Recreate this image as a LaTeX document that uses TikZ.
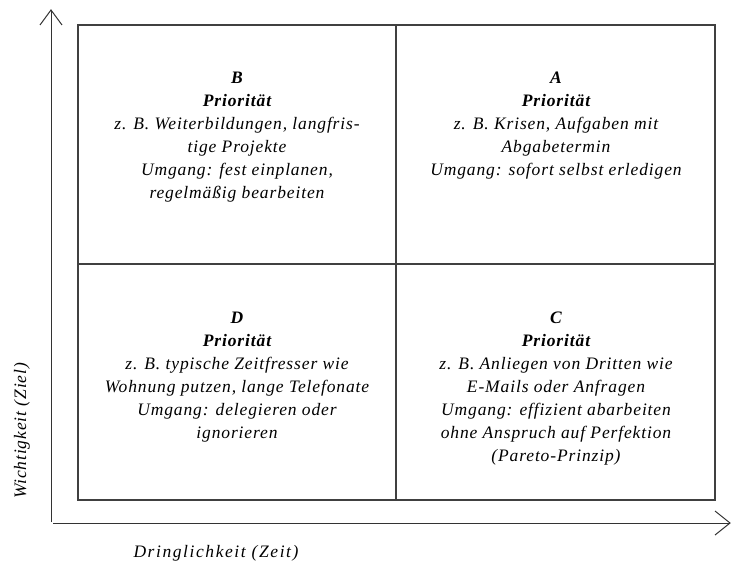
\documentclass[tikz,border=0pt]{standalone}
\usepackage{fontspec}
\setmainfont{Liberation Serif}
\newfontfamily\quadfont[LetterSpace=5]{Liberation Serif}
\newfontfamily\labfont[LetterSpace=9]{Liberation Serif}
\begin{document}
\begin{tikzpicture}[x=1pt,y=-1pt,
  box/.style={draw=black!75,line width=1.3pt},
  axis/.style={draw=black!80,line width=1pt},
  quad/.style={anchor=north,align=center,font=\quadfont\fontsize{17.5}{23}\selectfont\itshape,inner sep=0pt},
  axlabel/.style={inner sep=0pt}]
\useasboundingbox (0,0) rectangle (738,561);
% quadrants
\draw[box] (78,25) rectangle (396,264);
\draw[box] (396,25) rectangle (715,264);
\draw[box] (78,264) rectangle (396,500);
\draw[box] (396,264) rectangle (715,500);
% axes
\coordinate (y0) at (51,522);
\coordinate (y1) at (51,10);
\coordinate (x0) at (53,523);
\coordinate (x1) at (730,523);
\draw[axis] (y0) -- (y1);
\draw[axis] (x0) -- (x1);
\draw[axis] (40,25) -- (y1) -- (62,25);
\draw[axis] (715,511) -- (x1) -- (715,535);
% texts
\node[quad] (qb) at (237,72) {\textbf{B}\\\textbf{Priorität}\\z. B. Weiterbildungen, langfris-\\tige Projekte\\Umgang: fest einplanen,\\regelmäßig bearbeiten};
\node[quad] (qa) at (556,72) {\textbf{A}\\\textbf{Priorität}\\z. B. Krisen, Aufgaben mit\\Abgabetermin\\Umgang: sofort selbst erledigen};
\node[quad] (qd) at (237,312) {\textbf{D}\\\textbf{Priorität}\\z. B. typische Zeitfresser wie\\Wohnung putzen, lange Telefonate\\Umgang: delegieren oder\\ignorieren};
\node[quad] (qc) at (556,312) {\textbf{C}\\\textbf{Priorität}\\z. B. Anliegen von Dritten wie\\E-Mails oder Anfragen\\Umgang: effizient abarbeiten\\ohne Anspruch auf Perfektion\\(Pareto-Prinzip)};
\node[axlabel,rotate=90,font=\quadfont\fontsize{17.5}{20}\selectfont\itshape] (ly) at (22,431) {Wichtigkeit (Ziel)};
\node[axlabel,font=\labfont\fontsize{17.5}{20}\selectfont\itshape] (lx) at (216,553) {Dringlichkeit (Zeit)};
\end{tikzpicture}
\end{document}
